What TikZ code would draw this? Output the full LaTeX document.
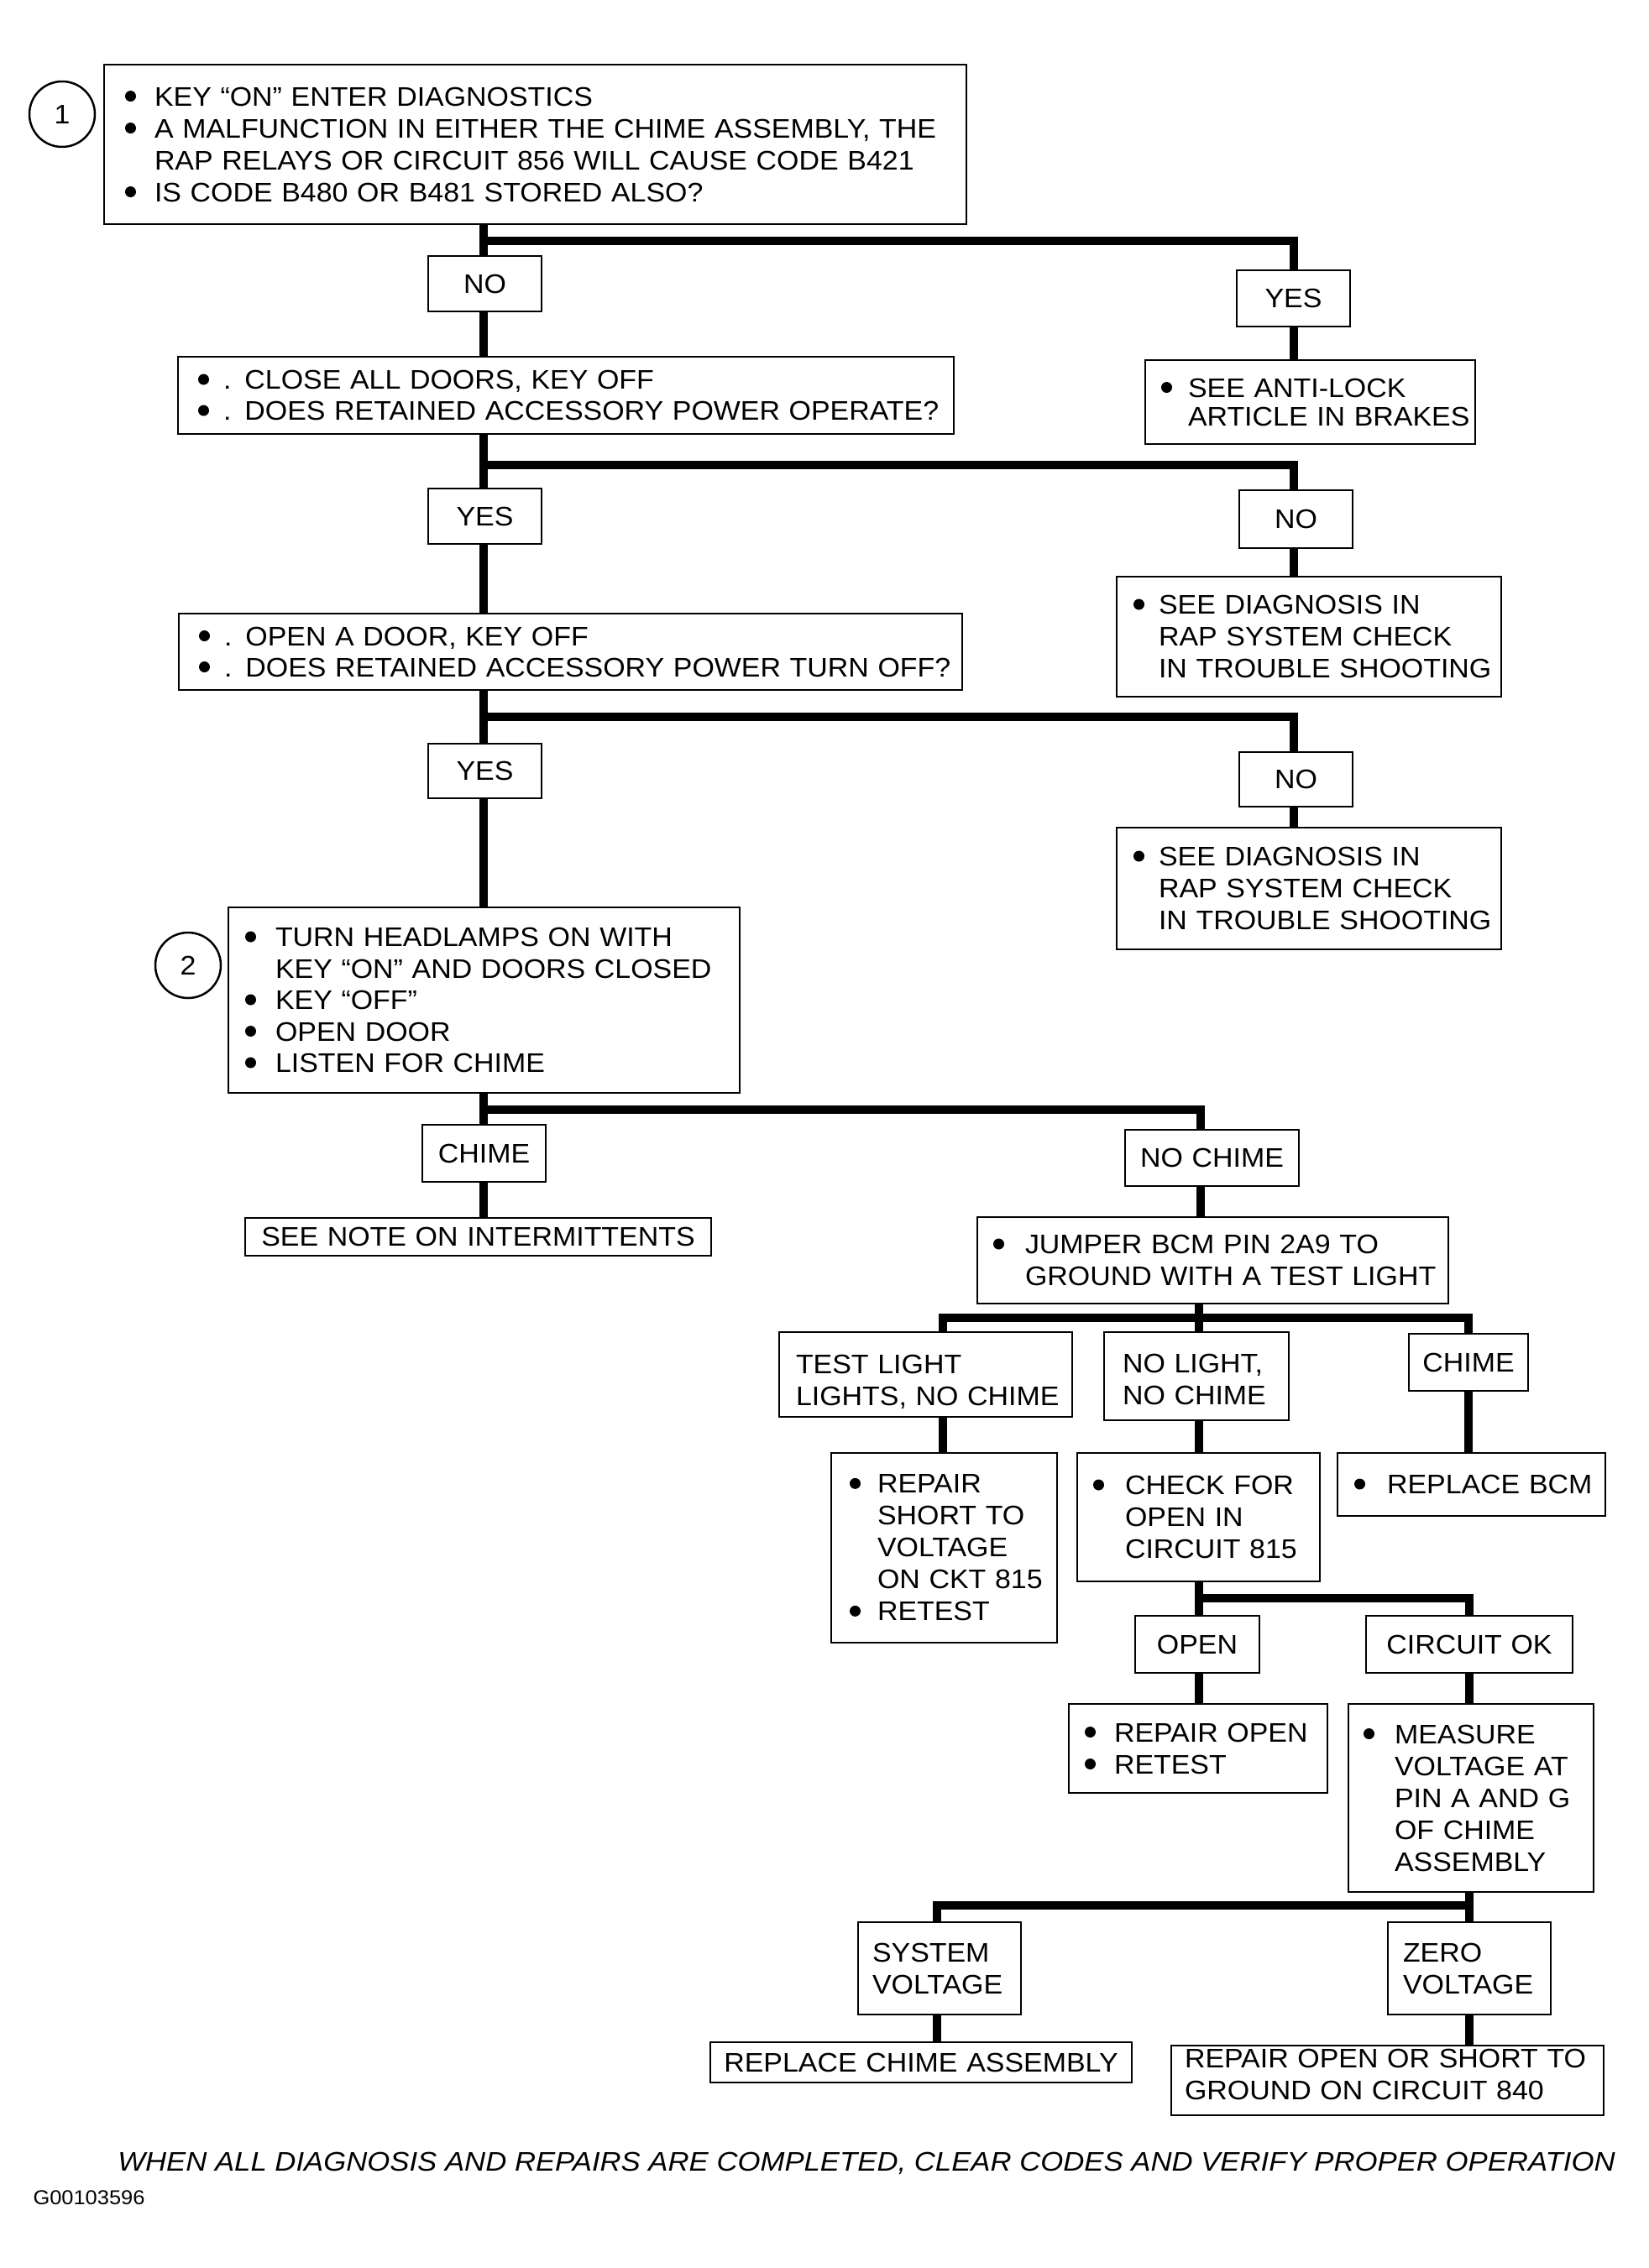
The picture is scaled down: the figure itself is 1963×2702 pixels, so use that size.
\documentclass[tikz,border=0pt]{standalone}
\usepackage{fontspec}
\setmainfont{Liberation Sans}[FakeStretch=1.06]
\newfontfamily\footfont{Liberation Sans}[FakeStretch=1.085]
\newcommand\dg{\fontsize{32pt}{38pt}\selectfont}
\newcommand\bdot{\tikz[baseline=0pt]\fill[black] (7pt,11.5pt) circle[radius=6.5pt];}
\newcommand\bu[1]{\makebox[#1pt][l]{\bdot}}
\newcommand\Li[2]{\mbox{\bu{#1}#2}}
\newcommand\Lc[2]{\mbox{\hspace{#1pt}#2}}
\newcommand\bx[8][38]{%
  \pgfmathsetmacro\bxw{#5-#3-2*#7}%
  \pgfmathsetmacro\bxh{#6-#4}%
  \node[box, font={\fontsize{32pt}{#1pt}\selectfont}, inner xsep=#7pt, text width=\bxw pt, minimum height=\bxh pt] (#2) at (#3,#4) {#8};}
\newcommand\cbx[6]{%
  \pgfmathsetmacro\bxw{#4-#2}%
  \pgfmathsetmacro\bxh{#5-#3}%
  \node[box, align=center, inner xsep=0pt, text width=\bxw pt, minimum height=\bxh pt, font=\dg] (#1) at (#2,#3) {#6};}
\tikzset{
 box/.style={draw, line width=2.5pt, rectangle, anchor=north west, align=left, inner ysep=0pt, outer sep=0pt},
 conn/.style={line width=9.5pt, line cap=butt},
 bar/.style={line width=9.5pt, line cap=rect},
 num/.style={circle, draw, line width=2.5pt, minimum size=78pt, inner sep=0pt, font=\dg},
}
\begin{document}
\begin{tikzpicture}[x=1pt,y=-1pt]
\fill[white] (0,0) rectangle (1963,2702);
\useasboundingbox (0,0) rectangle (1963,2702);

% ---- boxes ----
\bx{A}{124}{77}{1151}{267}{25}{\Li{35}{KEY “ON” ENTER DIAGNOSTICS}\\
 \Li{35}{A MALFUNCTION IN EITHER THE CHIME ASSEMBLY, THE}\\
 \Lc{35}{RAP RELAYS OR CIRCUIT 856 WILL CAUSE CODE B421}\\
 \Li{35}{IS CODE B480 OR B481 STORED ALSO?}}
\node[num] (c1) at (74,136) {1};

\cbx{no1}{510}{305}{645}{371}{NO}
\cbx{yes1}{1473}{322}{1608}{389}{YES}

\bx[37]{B}{212}{425}{1136}{517}{24}{\Li{30}{. CLOSE ALL DOORS, KEY OFF}\\
 \Li{30}{. DOES RETAINED ACCESSORY POWER OPERATE?}}
\bx[34]{anti}{1364}{429}{1757}{529}{19}{\Li{32}{SEE ANTI-LOCK}\\
 \Lc{32}{ARTICLE IN BRAKES}}

\cbx{yes2}{510}{582}{645}{648}{YES}
\cbx{no2}{1476}{584}{1611}{653}{NO}
\bx{diag1}{1330}{687}{1788}{830}{20}{\Li{30}{SEE DIAGNOSIS IN}\\
 \Lc{30}{RAP SYSTEM CHECK}\\
 \Lc{30}{IN TROUBLE SHOOTING}}

\bx[37]{C}{213}{731}{1146}{822}{24}{\Li{30}{. OPEN A DOOR, KEY OFF}\\
 \Li{30}{. DOES RETAINED ACCESSORY POWER TURN OFF?}}

\cbx{yes3}{510}{886}{645}{951}{YES}
\cbx{no3}{1476}{896}{1611}{961}{NO}
\bx{diag2}{1330}{986}{1788}{1131}{20}{\Li{30}{SEE DIAGNOSIS IN}\\
 \Lc{30}{RAP SYSTEM CHECK}\\
 \Lc{30}{IN TROUBLE SHOOTING}}

\bx[37.5]{D}{272}{1081}{881}{1302}{20}{\Li{36}{TURN HEADLAMPS ON WITH}\\
 \Lc{36}{KEY “ON” AND DOORS CLOSED}\\
 \Li{36}{KEY “OFF”}\\
 \Li{36}{OPEN DOOR}\\
 \Li{36}{LISTEN FOR CHIME}}
\node[num] (c2) at (224,1150) {2};

\cbx{chime1}{503}{1340}{650}{1408}{CHIME}
\cbx{note}{292}{1451}{847}{1496}{SEE NOTE ON INTERMITTENTS}
\cbx{nochime}{1340}{1346}{1547}{1413}{NO CHIME}
\bx{jumper}{1164}{1450}{1725}{1553}{19}{\Li{38}{JUMPER BCM PIN 2A9 TO}\\
 \Lc{38}{GROUND WITH A TEST LIGHT}}

\bx{testlight}{928}{1587}{1277}{1688}{20}{\mbox{\rule{0pt}{41pt}TEST LIGHT}\\ \mbox{LIGHTS, NO CHIME}}
\bx{nolight}{1315}{1587}{1535}{1692}{22}{\mbox{\rule{0pt}{30pt}NO LIGHT,}\\ \mbox{NO CHIME}}
\cbx{chime2}{1678}{1589}{1820}{1657}{CHIME}

\bx{repshort}{990}{1731}{1259}{1957}{22}{\Li{33}{REPAIR}\\
 \Lc{33}{SHORT TO}\\
 \Lc{33}{VOLTAGE}\\
 \Lc{33}{ON CKT 815}\\
 \Li{33}{RETEST}}
\bx{checkfor}{1283}{1731}{1572}{1884}{19}{\Li{38}{CHECK FOR}\\
 \Lc{38}{OPEN IN}\\
 \Lc{38}{CIRCUIT 815}}
\bx{repbcm}{1593}{1731}{1912}{1806}{20}{\Li{39}{REPLACE BCM}}

\cbx{open}{1352}{1925}{1500}{1993}{OPEN}
\cbx{cok}{1627}{1925}{1873}{1993}{CIRCUIT OK}

\bx{repopen}{1273}{2030}{1581}{2136}{19}{\Li{35}{REPAIR OPEN}\\
 \Li{35}{RETEST}}
\bx{measure}{1606}{2030}{1898}{2254}{18}{\Li{37}{MEASURE}\\
 \Lc{37}{VOLTAGE AT}\\
 \Lc{37}{PIN A AND G}\\
 \Lc{37}{OF CHIME}\\
 \Lc{37}{ASSEMBLY}}

\bx{sysv}{1022}{2290}{1216}{2400}{17}{\mbox{SYSTEM}\\ \mbox{VOLTAGE}}
\bx{zerov}{1653}{2290}{1847}{2400}{18}{\mbox{ZERO}\\ \mbox{VOLTAGE}}
\cbx{repchime}{846}{2433}{1348}{2481}{REPLACE CHIME ASSEMBLY}
\bx{rep840}{1395}{2437}{1910}{2520}{16}{\mbox{REPAIR OPEN OR SHORT TO}\\ \mbox{GROUND ON CIRCUIT 840\rule[-14pt]{0pt}{1pt}}}

\node[font=\footfont\fontsize{32pt}{38pt}\selectfont\itshape] (foot) at (1032,2577) {WHEN ALL DIAGNOSIS AND REPAIRS ARE COMPLETED, CLEAR CODES AND VERIFY PROPER OPERATION};
\node[font=\fontsize{24pt}{28pt}\selectfont] (code) at (106,2618) {G00103596};

% ---- junction coordinates ----
\coordinate (b1l) at (576,287);  \coordinate (b1r) at (1541,287);
\coordinate (b2l) at (576,554);  \coordinate (b2r) at (1541,554);
\coordinate (b3l) at (576,854);  \coordinate (b3r) at (1541,854);
\coordinate (b4l) at (576,1322); \coordinate (b4r) at (1430,1322);
\coordinate (b5l) at (1123,1570); \coordinate (b5m) at (1428,1570); \coordinate (b5r) at (1749,1570);
\coordinate (b6l) at (1428,1904); \coordinate (b6r) at (1750,1904);
\coordinate (b7l) at (1116,2270); \coordinate (b7r) at (1750,2270);

% ---- bars ----
\draw[bar] (b1l) -- (b1r);
\draw[bar] (b2l) -- (b2r);
\draw[bar] (b3l) -- (b3r);
\draw[bar] (b4l) -- (b4r);
\draw[bar] (b5l) -- (b5r);
\draw[bar] (b6l) -- (b6r);
\draw[bar] (b7l) -- (b7r);

% ---- verticals ----
\draw[conn] (A.south -| b1l) -- (no1.north -| b1l);
\draw[conn] (no1.south -| b1l) -- (B.north -| b1l);
\draw[conn] (b1r) -- (yes1.north -| b1r);
\draw[conn] (yes1.south -| b1r) -- (anti.north -| b1r);

\draw[conn] (B.south -| b2l) -- (yes2.north -| b2l);
\draw[conn] (yes2.south -| b2l) -- (C.north -| b2l);
\draw[conn] (b2r) -- (no2.north -| b2r);
\draw[conn] (no2.south -| b2r) -- (diag1.north -| b2r);

\draw[conn] (C.south -| b3l) -- (yes3.north -| b3l);
\draw[conn] (yes3.south -| b3l) -- (D.north -| b3l);
\draw[conn] (b3r) -- (no3.north -| b3r);
\draw[conn] (no3.south -| b3r) -- (diag2.north -| b3r);

\draw[conn] (D.south -| b4l) -- (chime1.north -| b4l);
\draw[conn] (chime1.south -| b4l) -- (note.north -| b4l);
\draw[conn] (b4r) -- (nochime.north -| b4r);
\draw[conn] (nochime.south -| b4r) -- (jumper.north -| b4r);

\draw[conn] (jumper.south -| b5m) -- (b5m);
\draw[conn] (b5l) -- (testlight.north -| b5l);
\draw[conn] (testlight.south -| b5l) -- (repshort.north -| b5l);
\draw[conn] (b5m) -- (nolight.north -| b5m);
\draw[conn] (nolight.south -| b5m) -- (checkfor.north -| b5m);
\draw[conn] (b5r) -- (chime2.north -| b5r);
\draw[conn] (chime2.south -| b5r) -- (repbcm.north -| b5r);

\draw[conn] (checkfor.south -| b6l) -- (open.north -| b6l);
\draw[conn] (open.south -| b6l) -- (repopen.north -| b6l);
\draw[conn] (b6r) -- (cok.north -| b6r);
\draw[conn] (cok.south -| b6r) -- (measure.north -| b6r);

\draw[conn] (measure.south -| b7r) -- (zerov.north -| b7r);
\draw[conn] (zerov.south -| b7r) -- (rep840.north -| b7r);
\draw[conn] (b7l) -- (sysv.north -| b7l);
\draw[conn] (sysv.south -| b7l) -- (repchime.north -| b7l);
\end{tikzpicture}
\end{document}
